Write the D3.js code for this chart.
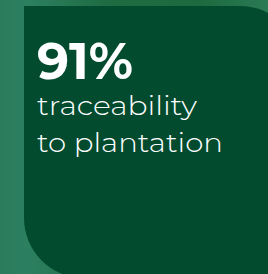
<!DOCTYPE html>
<html lang="en">
<meta charset="utf-8">
<script src="https://d3js.org/d3.v7.min.js"></script>
<style>
    body {margin: 0; overflow: hidden;}
    .stat {font-family: Montserrat, Inter, "Open Sans", sans-serif;}
</style>
<svg id="base" width="268" height="274"></svg>

<script>
    // the stat that the card shows
    var statValue = [91];
    var statUnit = ["%"];
    var labelLines = ["traceability", "to plantation"];

    var width = 268
    var height = 274;

    var svg = d3.select("#base");

    var defs = svg.append("defs");

    var bg = defs.append("linearGradient")
        .attr("id", "bg")
        .attr("x1", 0).attr("y1", 0)
        .attr("x2", 1).attr("y2", 0);
    bg.append("stop").attr("offset", "0%").attr("stop-color", "#2a7c5c");
    bg.append("stop").attr("offset", "10%").attr("stop-color", "#2c8061");
    bg.append("stop").attr("offset", "40%").attr("stop-color", "#1f6c42");
    bg.append("stop").attr("offset", "75%").attr("stop-color", "#1d6a3e");
    bg.append("stop").attr("offset", "100%").attr("stop-color", "#2a7a55");

    svg.append("rect")
        .attr("width", width)
        .attr("height", height)
        .attr("fill", "url(#bg)");

    // panel: square top-left, rounded top-right and bottom-left
    var px = d3.scaleLinear().domain([0, 1]).range([24, 300]);
    var py = d3.scaleLinear().domain([0, 1]).range([6, 278]);
    var r = 60;

    var p = d3.path();
    p.moveTo(px(0), py(0));
    p.lineTo(px(1) - r, py(0));
    p.arcTo(px(1), py(0), px(1), py(0) + r, r);
    p.lineTo(px(1), py(1));
    p.lineTo(px(0) + r, py(1));
    p.arcTo(px(0), py(1), px(0), py(1) - r, r);
    p.closePath();

    svg.append("path")
        .attr("d", p.toString())
        .attr("fill", "#034b2f");

    var g = svg.append("g").attr("class", "stat");

    g.append("text")
        .attr("x", 37)
        .attr("y", 79)
        .attr("fill", "#ffffff")
        .style("font-size", "51px")
        .style("font-weight", 700)
        .attr("textLength", 96)
        .attr("lengthAdjust", "spacingAndGlyphs")
        .text(statValue[0] + statUnit[0]);

    var lineY = d3.scalePoint()
        .domain(labelLines)
        .range([115, 152]);

    var lineW = {"traceability": 160, "to plantation": 186};

    g.selectAll(".label")
        .data(labelLines)
        .enter()
        .append("text")
        .attr("class", "label")
        .attr("x", 37)
        .attr("y", function (d) { return lineY(d); })
        .attr("fill", "#ffffff")
        .style("font-size", "26px")
        .style("font-weight", 300)
        .attr("textLength", function (d) { return lineW[d]; })
        .attr("lengthAdjust", "spacingAndGlyphs")
        .text(function (d) { return d; });
</script>
</html>
